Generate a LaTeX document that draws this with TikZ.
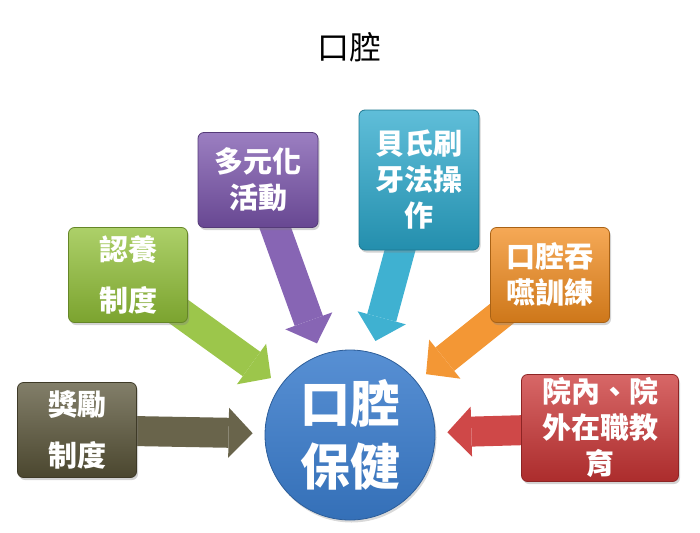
\documentclass[tikz,border=0pt]{standalone}
\usepackage{fontspec}
\newfontfamily\cjk{Noto Sans CJK TC}
\usetikzlibrary{positioning,arrows.meta,shadows,backgrounds}
\definecolor{rewardc}{RGB}{88,83,55}
\definecolor{adoptc}{RGB}{145,192,55}
\definecolor{activc}{RGB}{122,84,172}
\definecolor{brushc}{RGB}{42,168,204}
\definecolor{swallc}{RGB}{242,140,30}
\definecolor{trainc}{RGB}{202,52,52}
\definecolor{hubc}{RGB}{58,124,204}

\begin{document}
\begin{tikzpicture}[x=1pt,y=-1pt,font=\cjk,
  box/.style={rounded corners=6pt, minimum width=119pt, minimum height=95pt,
    align=center, inner sep=0pt, text=white, line width=0.8pt,
    top color=#1!75!white, bottom color=#1!85!black, draw=#1!70!black,
    drop shadow={shadow xshift=1.5pt,shadow yshift=-2.5pt,opacity=0.35}},
  tight/.style={font=\cjk\bfseries\fontsize{29}{36}\selectfont},
  loose/.style={font=\cjk\bfseries\fontsize{29}{51}\selectfont},
  fat/.style={line width=30pt, draw=#1,
    -{Triangle[length=24pt,width=50pt,line width=0pt]}, shorten >=12pt},
]
  \useasboundingbox (0,0) rectangle (700,532);

  \node[font=\cjk\fontsize{32}{38}\selectfont] (title) at (349,47) {口腔};

  \node[circle, minimum size=170pt, inner sep=0pt, text=white, line width=0.8pt,
        align=center, top color=hubc!85!white, bottom color=hubc!90!black,
        draw=hubc!75!black, font=\cjk\bfseries\fontsize{50}{63}\selectfont,
        drop shadow={shadow xshift=1.5pt,shadow yshift=-2.5pt,opacity=0.3}]
        (hub) at (350,435) {口腔\\保健};

  \node[box=rewardc, loose] (reward) at (77,430) {獎勵\\制度};
  \node[box=adoptc, loose] (adopt) at (128,275) {認養\\制度};
  \node[box=activc, tight, minimum width=120pt] (activ) at (258,180) {多元化\\活動};
  \node[box=brushc, tight, minimum width=120pt, minimum height=140pt] (brush) at (419,180) {貝氏刷\\牙法操\\作};
  \node[box=swallc, tight] (swall) at (550,275) {口腔吞\\嚥訓練};
  \node[box=trainc, tight, minimum width=157pt, minimum height=107pt] (train) at (600,428) {院內、院\\外在職教\\育};

  \begin{scope}[on background layer]
    \draw[fat=rewardc!90!white] (reward.center) -- (hub);
    \draw[fat=adoptc!90!white] (adopt.center) -- (hub);
    \draw[fat=activc!90!white] (activ.center) -- (hub);
    \draw[fat=brushc!90!white] (brush.center) -- (hub);
    \draw[fat=swallc!90!white] (swall.center) -- (hub);
    \draw[fat=trainc!90!white] (train.center) -- (hub);
  \end{scope}
\end{tikzpicture}
\end{document}
